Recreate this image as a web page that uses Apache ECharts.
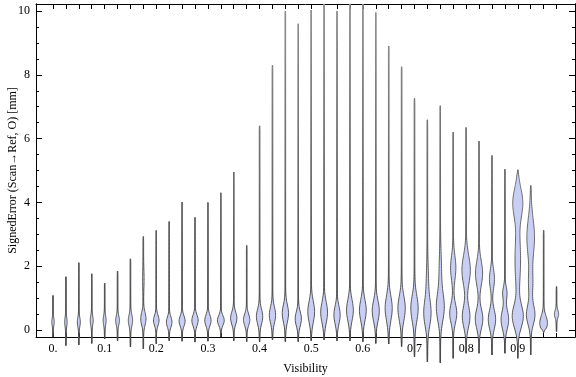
<!DOCTYPE html>
<html>
<head>
<meta charset="utf-8">
<script src="https://cdn.jsdelivr.net/npm/echarts@6/dist/echarts.min.js"></script>
<style>
  html, body { margin: 0; padding: 0; background: #fff; }
  #chart { width: 576px; height: 377px; }
</style>
</head>
<body>
<div id="chart"></div>
<script>
// visibility bins (one violin each)
const vis = [0, 0.025, 0.05, 0.075, 0.1, 0.125, 0.15, 0.175, 0.2, 0.225,
  0.25, 0.275, 0.3, 0.325, 0.35, 0.375, 0.4, 0.425, 0.45, 0.475,
  0.5, 0.525, 0.55, 0.575, 0.6, 0.625, 0.65, 0.675, 0.7, 0.725,
  0.75, 0.775, 0.8, 0.825, 0.85, 0.875, 0.9, 0.925, 0.95, 0.975];

// range of signed error per bin [mm]
const errMin = [-0.22, -0.49, -0.47, -0.42, -0.28, -0.34, -0.53, -0.59, -0.43, -0.34,
  -0.35, -0.38, -0.35, -0.22, -0.34, -0.37, -0.37, -0.31, -0.37, -0.37,
  -0.34, -0.31, -0.34, -0.34, -0.37, -0.42, -0.44, -0.52, -0.84, -1.0,
  -1.03, -0.89, -0.73, -0.73, -0.78, -0.73, -0.89, -0.78, -0.08, -0.05];
const errMax = [1.08, 1.67, 2.11, 1.76, 1.47, 1.85, 2.23, 2.93, 3.12, 3.40,
  4.01, 3.53, 4.0, 4.3, 4.95, 2.65, 6.4, 8.3, 10.0, 9.6,
  10.03, 10.4, 10.0, 10.4, 10.3, 9.95, 8.9, 8.25, 7.26, 6.59,
  7.03, 6.2, 6.35, 5.92, 5.47, 5.04, 5.02, 4.53, 3.12, 1.36];

// main mode of each bin: centre, spread, relative density (share of bin width)
const modeCenter = [0.25, 0.25, 0.25, 0.3, 0.3, 0.3, 0.3, 0.35, 0.3, 0.25,
  0.28, 0.3, 0.3, 0.3, 0.37, 0.32, 0.42, 0.47, 0.52, 0.35,
  0.57, 0.55, 0.47, 0.62, 0.62, 0.6, 0.68, 0.68, 0.68, 0.52,
  0.7, 0.52, 0.42, 0.35, 0.33, 0.33, 0.42, 0.47, 0.22, 0.5];
const modeSpread = [0.12, 0.15, 0.15, 0.15, 0.15, 0.15, 0.18, 0.2, 0.16, 0.16,
  0.16, 0.17, 0.17, 0.15, 0.19, 0.18, 0.23, 0.25, 0.27, 0.22,
  0.32, 0.32, 0.27, 0.32, 0.32, 0.32, 0.38, 0.38, 0.4, 0.4,
  0.42, 0.3, 0.33, 0.3, 0.3, 0.3, 0.35, 0.3, 0.22, 0.12];
const modeDensity = [0.08, 0.08, 0.1, 0.1, 0.1, 0.13, 0.15, 0.19, 0.2, 0.2,
  0.22, 0.23, 0.23, 0.25, 0.23, 0.23, 0.23, 0.23, 0.23, 0.23,
  0.25, 0.25, 0.23, 0.25, 0.25, 0.26, 0.26, 0.27, 0.27, 0.26,
  0.28, 0.26, 0.28, 0.28, 0.27, 0.28, 0.4, 0.31, 0.28, 0.15];

// secondary modes: [bin index, centre, spread, relative density]
const extraModes = [
  [7, 1.6, 0.3, 0.04],
  [29, 1.5, 0.5, 0.07],
  [30, 1.8, 0.6, 0.08],
  [31, 1.95, 0.38, 0.19],
  [32, 1.88, 0.45, 0.31],
  [33, 1.78, 0.38, 0.26],
  [34, 1.6, 0.3, 0.18],
  [35, 1.16, 0.2, 0.15],
  [36, 4.0, 0.45, 0.36],
  [36, 2.2, 0.8, 0.2],
  [37, 2.9, 0.6, 0.28],
  [37, 1.45, 0.4, 0.14]
];

const xTickVals = [0, 0.1, 0.2, 0.3, 0.4, 0.5, 0.6, 0.7, 0.8, 0.9];
const xTickText = ['0.', '0.1', '0.2', '0.3', '0.4', '0.5', '0.6', '0.7', '0.8', '0.9'];
const yTickVals = [0, 2, 4, 6, 8, 10];
const yMinorVals = [0, 0.5, 1, 1.5, 2, 2.5, 3, 3.5, 4, 4.5, 5, 5.5, 6, 6.5, 7, 7.5, 8, 8.5, 9, 9.5, 10];

const X_MIN = -0.0329, X_MAX = 1.0108;
const Y_MIN = -0.22, Y_MAX = 10.22;
const FONT = 'Liberation Serif';

const chart = echarts.init(document.getElementById('chart'));

function modesOf(i) {
  const list = [[modeCenter[i], modeSpread[i], modeDensity[i]]];
  extraModes.forEach(m => { if (m[0] === i) list.push([m[1], m[2], m[3]]); });
  return list;
}

// tail stroke: lighter towards the top of the frame
const tailColor = {
  type: 'linear', x: 0, y: 4, x2: 0, y2: 330, global: true,
  colorStops: [
    { offset: 0, color: '#8e8e8e' },
    { offset: 0.6, color: '#626262' },
    { offset: 1, color: '#444' }
  ]
};

function renderViolin(params, api) {
  const i = api.value(3);
  const cx = api.coord([vis[i], 0])[0];
  const band = api.size([0.025, 0])[0];
  const lo = errMin[i];
  const top = errMax[i];
  const hi = Math.min(top, Y_MAX);
  const modes = modesOf(i);
  const n = 90;
  const right = [], left = [];
  for (let k = 0; k <= n; k++) {
    const y = lo + (hi - lo) * k / n;
    let hw = 0.2;
    modes.forEach(m => {
      const d = (y - m[0]) / m[1];
      hw += m[2] * band * Math.exp(-0.5 * d * d);
    });
    const taper = Math.max(0, Math.min(1, (y - lo) / 0.15, (top - y) / 0.15));
    hw *= taper;
    const py = api.coord([0, y])[1];
    right.push([cx + hw, py]);
    left.unshift([cx - hw, py]);
  }
  const yLo = api.coord([0, lo])[1];
  const yHi = api.coord([0, hi])[1];
  return {
    type: 'group',
    children: [
      {
        type: 'line',
        shape: { x1: cx, y1: yLo, x2: cx, y2: yHi },
        style: { stroke: tailColor, lineWidth: 1.4 }
      },
      {
        type: 'polygon',
        shape: { points: right.concat(left) },
        style: { fill: '#c9cff4', stroke: tailColor, lineWidth: 0.9 }
      }
    ]
  };
}

const axisLine = { show: true, onZero: false, lineStyle: { color: '#000', width: 1 } };

const option = {
  animation: false,
  grid: { left: 36, right: 1, top: 4, bottom: 40, outerBoundsMode: 'none', containLabel: false },
  xAxis: [
    {
      type: 'value', position: 'bottom', min: X_MIN, max: X_MAX,
      axisLine: axisLine,
      axisTick: { inside: true, length: 4, customValues: vis, lineStyle: { color: '#000' } },
      axisLabel: {
        customValues: xTickVals, margin: 6, color: '#000',
        fontFamily: FONT, fontSize: 12,
        formatter: v => {
          let best = 0;
          xTickVals.forEach((t, j) => { if (Math.abs(t - v) < Math.abs(xTickVals[best] - v)) best = j; });
          return xTickText[best];
        }
      },
      splitLine: { show: false },
      name: 'Visibility', nameLocation: 'middle', nameGap: 26, nameMoveOverlap: false,
      nameTextStyle: { color: '#000', fontFamily: FONT, fontSize: 12 }
    },
    {
      type: 'value', position: 'top', min: X_MIN, max: X_MAX,
      axisLine: axisLine,
      axisTick: { inside: true, length: 5, customValues: vis, lineStyle: { color: '#000' } },
      axisLabel: { show: false },
      splitLine: { show: false }
    }
  ],
  yAxis: [
    {
      type: 'value', position: 'left', min: Y_MIN, max: Y_MAX,
      axisLine: axisLine,
      axisTick: { inside: true, length: 6, customValues: yTickVals, lineStyle: { color: '#000' } },
      axisLabel: {
        customValues: yTickVals, margin: 6, color: '#000',
        fontFamily: FONT, fontSize: 12
      },
      splitLine: { show: false },
      name: 'SignedError (Scan\u2192Ref, O) [mm]', nameLocation: 'middle', nameGap: 17,
      nameMoveOverlap: false,
      nameTextStyle: { color: '#000', fontFamily: FONT, fontSize: 12 }
    },
    {
      type: 'value', position: 'left', min: Y_MIN, max: Y_MAX,
      axisLine: axisLine,
      axisTick: { inside: true, length: 3, customValues: yMinorVals, lineStyle: { color: '#000' } },
      axisLabel: { show: false },
      splitLine: { show: false }
    },
    {
      type: 'value', position: 'right', min: Y_MIN, max: Y_MAX,
      axisLine: axisLine,
      axisTick: { inside: true, length: 6, customValues: yTickVals, lineStyle: { color: '#000' } },
      axisLabel: { show: false },
      splitLine: { show: false }
    },
    {
      type: 'value', position: 'right', min: Y_MIN, max: Y_MAX,
      axisLine: axisLine,
      axisTick: { inside: true, length: 3, customValues: yMinorVals, lineStyle: { color: '#000' } },
      axisLabel: { show: false },
      splitLine: { show: false }
    }
  ],
  series: [{
    type: 'custom',
    xAxisIndex: 0,
    yAxisIndex: 0,
    clip: false,
    renderItem: renderViolin,
    encode: { x: 0, y: [1, 2] },
    data: vis.map((v, i) => [v, errMin[i], errMax[i], i])
  }]
};

chart.setOption(option);
</script>
</body>
</html>
